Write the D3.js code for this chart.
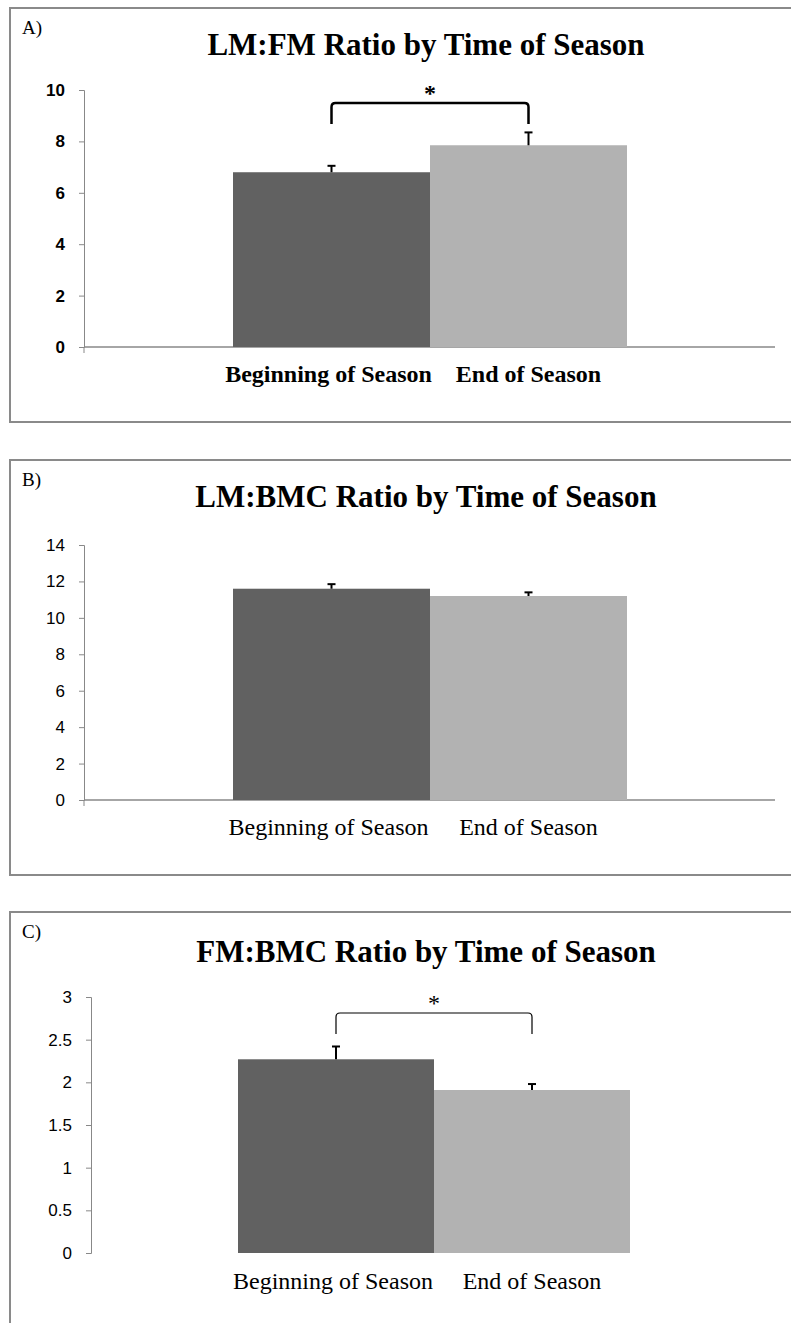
<!DOCTYPE html>
<html><head><meta charset="utf-8">
<script src="https://cdn.jsdelivr.net/npm/d3@7"></script>
<style>body{margin:0;background:#fff}</style>
</head><body>
<script>
var categories = ["Beginning of Season","End of Season"];
var colors = ["#616161","#b2b2b2"];
var titles = ["LM:FM Ratio by Time of Season","LM:BMC Ratio by Time of Season","FM:BMC Ratio by Time of Season"];
var letters = ["A)","B)","C)"];
var valuesA = [6.8, 7.85], errA = [0.25, 0.5], ticksA = [0,2,4,6,8,10];
var valuesB = [11.6, 11.2], errB = [0.25, 0.2], ticksB = [0,2,4,6,8,10,12,14];
var valuesC = [2.27, 1.91], errC = [0.15, 0.07], ticksC = [0,0.5,1,1.5,2,2.5,3];

var svg = d3.select("body").append("svg").attr("width",791).attr("height",1323);

var panels = [
  {top:8, bottom:422, y0:347, y1:90, ax:84, bx:[233,627], vals:valuesA, err:errA, ticks:ticksA, bold:true, star:true, bracket:103, axisLine:true, titleY:55, labY:382},
  {top:460, bottom:875, y0:800, y1:545, ax:84, bx:[233,627], vals:valuesB, err:errB, ticks:ticksB, bold:false, star:false, axisLine:true, titleY:507, labY:835},
  {top:912, bottom:1330, y0:1253, y1:997, ax:91, bx:[238,630], vals:valuesC, err:errC, ticks:ticksC, bold:false, star:true, bracket:1013, axisLine:false, titleY:962, labY:1289}
];

panels.forEach(function(p,i){
  var g = svg.append("g");
  g.append("rect").attr("x",10).attr("y",p.top).attr("width",800).attr("height",p.bottom-p.top)
    .attr("fill","none").attr("stroke","#8a8a8a").attr("stroke-width",2);
  g.append("text").attr("x",22).attr("y",p.top+26).attr("font-family","Liberation Serif").attr("font-size",19).text(letters[i]);
  g.append("text").attr("x",426).attr("y",p.titleY).attr("text-anchor","middle")
    .attr("font-family","Liberation Serif").attr("font-weight","bold").attr("font-size",31).text(titles[i]);

  var y = d3.scaleLinear().domain([0,d3.max(p.ticks)]).range([p.y0,p.y1]);
  var x = d3.scaleBand().domain(categories).range(p.bx).padding(0);

  var yAxis = g.append("g").attr("transform","translate("+p.ax+",0)")
    .call(d3.axisLeft(y).tickValues(p.ticks).tickSize(5).tickPadding(14).tickFormat(d3.format("")));
  yAxis.select(".domain").attr("stroke","#888");
  yAxis.selectAll(".tick line").attr("stroke","#888");
  yAxis.selectAll("text").attr("font-family","Liberation Sans").attr("font-size",17).attr("fill","#000")
    .attr("font-weight",p.bold?"bold":"normal");

  if(p.axisLine){
    g.append("line").attr("x1",p.ax).attr("x2",775).attr("y1",p.y0).attr("y2",p.y0).attr("stroke","#888").attr("stroke-width",1.5);
    g.append("line").attr("x1",p.ax).attr("x2",p.ax).attr("y1",p.y0).attr("y2",p.y0+6).attr("stroke","#888");
  }

  g.selectAll(".bar").data(p.vals).enter().append("rect")
    .attr("x",function(d,j){return x(categories[j]);})
    .attr("width",x.bandwidth())
    .attr("y",function(d){return y(d);})
    .attr("height",function(d){return p.y0-y(d);})
    .attr("fill",function(d,j){return colors[j];});

  p.vals.forEach(function(v,j){
    var cx = x(categories[j]) + x.bandwidth()/2;
    g.append("line").attr("x1",cx).attr("x2",cx).attr("y1",y(v)).attr("y2",y(v+p.err[j])).attr("stroke","#000").attr("stroke-width",2);
    g.append("line").attr("x1",cx-4).attr("x2",cx+4).attr("y1",y(v+p.err[j])).attr("y2",y(v+p.err[j])).attr("stroke","#000").attr("stroke-width",2);
  });

  categories.forEach(function(c,j){
    g.append("text").attr("x",x(c)+x.bandwidth()/2 + (j==0?-3:0)).attr("y",p.labY).attr("text-anchor","middle")
      .attr("font-family","Liberation Serif").attr("font-size",24).attr("font-weight",p.bold?"bold":"normal").text(c);
  });

  if(p.star){
    var xa = x(categories[0])+x.bandwidth()/2, xb = x(categories[1])+x.bandwidth()/2;
    var bt = p.bracket;
    g.append("path").attr("d","M"+xa+","+(bt+21)+" L"+xa+","+(bt+4)+" Q"+xa+","+bt+" "+(xa+4)+","+bt+" L"+(xb-4)+","+bt+" Q"+xb+","+bt+" "+xb+","+(bt+4)+" L"+xb+","+(bt+21))
      .attr("fill","none").attr("stroke","#000").attr("stroke-width",p.bold?2.5:1.2);
    g.append("text").attr("x",(xa+xb)/2).attr("y",bt-2).attr("text-anchor","middle")
      .attr("font-family","Liberation Serif").attr("font-size",24).attr("font-weight",p.bold?"bold":"normal").text("*");
  }
});
</script>
</body></html>
